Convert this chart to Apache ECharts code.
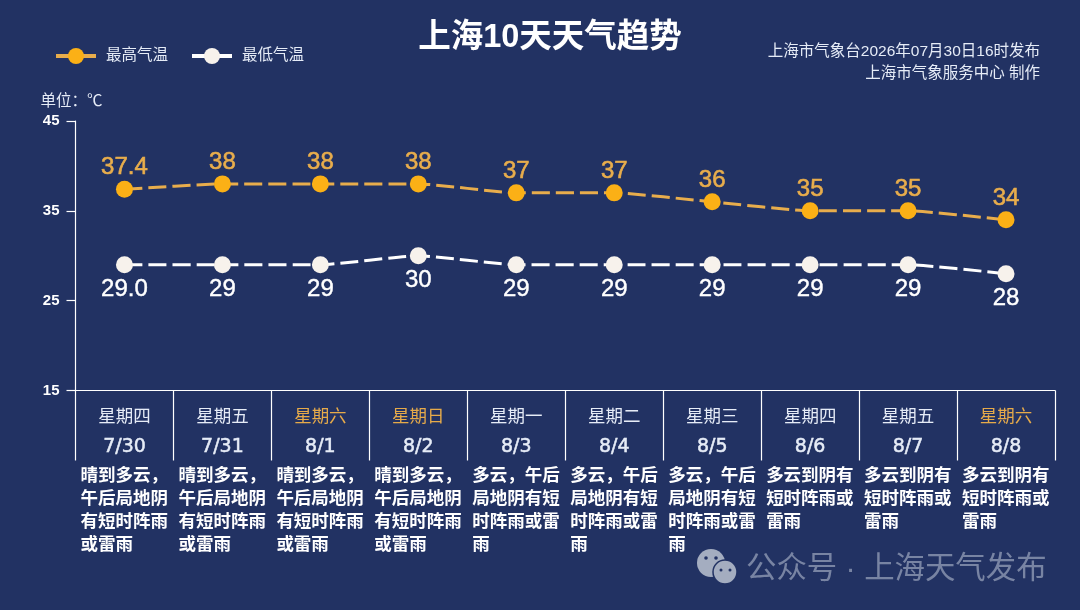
<!DOCTYPE html>
<html>
<head>
<meta charset="utf-8">
<title>上海10天天气趋势</title>
<script src="https://cdn.jsdelivr.net/npm/echarts@6/dist/echarts.min.js"></script>
<style>
html,body{margin:0;padding:0;background:#223263;}
#main{width:1080px;height:610px;}
</style>
</head>
<body>
<div id="main"></div>
<script>
var weekdays = ['星期四','星期五','星期六','星期日','星期一','星期二','星期三','星期四','星期五','星期六'];
var dates = ['7/30','7/31','8/1','8/2','8/3','8/4','8/5','8/6','8/7','8/8'];
var highTemps = [37.4,38,38,38,37,37,36,35,35,34];
var lowTemps = [29.0,29,29,30,29,29,29,29,29,28];
var lowLabels = ['29.0','29','29','30','29','29','29','29','29','28'];
var yTicks = {min:15,max:45,interval:10};
var weather = [
    ['晴到多云，','午后局地阴','有短时阵雨','或雷雨'],
    ['晴到多云，','午后局地阴','有短时阵雨','或雷雨'],
    ['晴到多云，','午后局地阴','有短时阵雨','或雷雨'],
    ['晴到多云，','午后局地阴','有短时阵雨','或雷雨'],
    ['多云，午后','局地阴有短','时阵雨或雷','雨'],
    ['多云，午后','局地阴有短','时阵雨或雷','雨'],
    ['多云，午后','局地阴有短','时阵雨或雷','雨'],
    ['多云到阴有','短时阵雨或','雷雨'],
    ['多云到阴有','短时阵雨或','雷雨'],
    ['多云到阴有','短时阵雨或','雷雨']
];

var cjk = '"Liberation Sans","Noto Sans CJK SC",sans-serif';
var orange = '#e8ad4c';
var dot = '#fbb016';
var textColor = '#e6ecf7';

var myChart = echarts.init(document.getElementById('main'));

var option = {
    animation: false,
    backgroundColor: '#223263',
    textStyle: {fontFamily: cjk},
    title: [{
        text: '上海10天天气趋势',
        left: 550, top: 22, padding: 0,
        textAlign: 'center',
        textStyle: {color: '#ffffff', fontSize: 32.5, fontWeight: 'bold', fontFamily: cjk}
    }, {
        text: '上海市气象台2026年07月30日16时发布\n上海市气象服务中心 制作',
        left: 1040, top: 41, padding: 0,
        textAlign: 'right',
        textStyle: {color: textColor, fontSize: 15.5, fontWeight: 'normal', lineHeight: 22, fontFamily: cjk}
    }, {
        text: '公众号 · 上海天气发布',
        left: 746, top: 554, padding: 0,
        textStyle: {color: 'rgba(200,208,222,0.52)', fontSize: 30.4, fontWeight: 'normal', fontFamily: cjk}
    }],
    legend: {
        left: 49, top: 43,
        itemWidth: 40, itemHeight: 20, itemGap: 22,
        textStyle: {color: textColor, fontSize: 15.5, padding: [0, 0, 0, 5]},
        lineStyle: {type: 'solid', width: 4},
        data: ['最高气温', '最低气温']
    },
    grid: {left: 75.5, right: 25, top: 121, bottom: 219.5},
    xAxis: [{
        type: 'category',
        data: weekdays,
        boundaryGap: true,
        axisLine: {lineStyle: {color: '#ffffff', width: 1.2}},
        axisTick: {show: true, length: 70, lineStyle: {color: '#ffffff', width: 1.2}},
        axisLabel: {
            interval: 0, margin: 11.5,
            formatter: function (v, i) {
                var tag = (v === '星期六' || v === '星期日') ? 'we' : 'wd';
                return '{' + tag + '|' + v + '}\n{d|' + dates[i] + '}';
            },
            rich: {
                wd: {color: textColor, fontSize: 17.5, lineHeight: 30, fontFamily: cjk},
                we: {color: '#e6aa4a', fontSize: 17.5, lineHeight: 30, fontFamily: cjk},
                d: {color: textColor, fontSize: 19, lineHeight: 30, fontFamily: '"DejaVu Sans",sans-serif', textBorderColor: textColor, textBorderWidth: 0.5}
            }
        }
    }, {
        type: 'category',
        position: 'bottom',
        offset: 74.5,
        data: weekdays,
        axisLine: {show: false},
        axisTick: {show: false},
        axisLabel: {
            interval: 0, margin: 0,
            formatter: function (v, i) {
                return weather[i].map(function (s) { return '{t|' + s + '}'; }).join('\n');
            },
            rich: {
                t: {color: '#ffffff', fontSize: 17.5, fontWeight: 'bold', lineHeight: 22.8, width: 88, align: 'left', fontFamily: cjk}
            }
        }
    }],
    yAxis: {
        type: 'value',
        min: yTicks.min, max: yTicks.max, interval: yTicks.interval,
        name: '单位：℃',
        nameLocation: 'end',
        nameGap: 12,
        nameTextStyle: {color: textColor, fontSize: 15.5, align: 'center', padding: [0, 8, 0, 0]},
        splitLine: {show: false},
        axisLine: {show: true, lineStyle: {color: '#ffffff', width: 1.2}},
        axisTick: {show: true, length: 9, lineStyle: {color: '#ffffff', width: 1.2}},
        axisLabel: {color: '#ffffff', fontSize: 15, fontWeight: 'bold', margin: 16}
    },
    series: [{
        name: '最高气温',
        type: 'line',
        data: highTemps,
        smooth: 0.15,
        symbol: 'circle',
        symbolSize: 17,
        itemStyle: {color: dot},
        lineStyle: {color: orange, width: 3, type: [18, 6]},
        label: {show: true, position: 'top', distance: 1, color: orange, fontSize: 24, textBorderColor: orange, textBorderWidth: 0.6}
    }, {
        name: '最低气温',
        type: 'line',
        data: lowTemps,
        smooth: 0.15,
        symbol: 'circle',
        symbolSize: 17,
        itemStyle: {color: '#f7f2ec'},
        lineStyle: {color: '#ffffff', width: 3, type: [18, 6]},
        label: {
            show: true, position: 'bottom', distance: 4, color: '#ffffff', fontSize: 24,
            textBorderColor: '#ffffff', textBorderWidth: 0.4,
            formatter: function (p) { return lowLabels[p.dataIndex]; }
        }
    }],
    graphic: [
        {type: 'circle', shape: {cx: 711, cy: 563, r: 14}, style: {fill: '#a4adc0'}},
        {type: 'circle', shape: {cx: 725, cy: 572, r: 12}, style: {fill: '#a4adc0', stroke: '#223263', lineWidth: 1.5}},
        {type: 'circle', shape: {cx: 706, cy: 558, r: 1.8}, style: {fill: '#223263'}},
        {type: 'circle', shape: {cx: 716, cy: 558, r: 1.8}, style: {fill: '#223263'}},
        {type: 'circle', shape: {cx: 721, cy: 570, r: 1.5}, style: {fill: '#223263'}},
        {type: 'circle', shape: {cx: 730, cy: 570, r: 1.5}, style: {fill: '#223263'}}
    ]
};

myChart.setOption(option);
</script>
</body>
</html>
